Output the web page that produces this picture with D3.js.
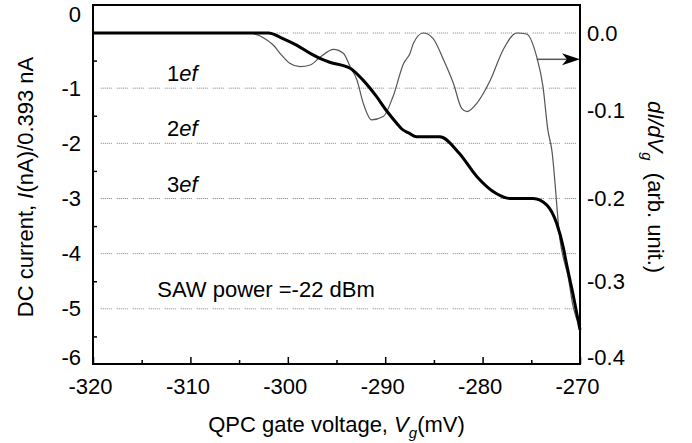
<!DOCTYPE html>
<html>
<head>
<meta charset="utf-8">
<script src="https://cdn.jsdelivr.net/npm/d3@7"></script>
<style>
  body { margin: 0; background: white; }
  text { font-family: 'Liberation Sans', Arial, sans-serif; fill: black; }
</style>
</head>
<body>
<script>
// thick curve: DC current (left axis, units of ef = 0.393 nA)
const vgCurrent = [-320, -302.0, -300.5, -299.1, -297.7, -296.7, -295.7, -293.6, -292.3, -290.9,
  -289.9, -288.8, -288.3, -287.5, -286.8, -284.4, -282.4, -280.6, -278.6, -277.2, -274.8,
  -273.4, -272.4, -271.7, -271.4, -270.7, -270];
const current = [0, 0, -0.10, -0.22, -0.37, -0.46, -0.53, -0.64, -0.85, -1.15,
  -1.40, -1.64, -1.74, -1.82, -1.88, -1.88, -2.18, -2.60, -2.91, -3.00, -3.00,
  -3.12, -3.45, -3.90, -4.17, -4.75, -5.38];

// thin curve: dI/dVg (right axis, arb. unit)
const vgDeriv = [-320, -304.2, -301.5, -300.8, -299.8, -298.75, -297.7, -296.7, -295.3, -294.3,
  -293.6, -292.9, -292.25, -291.4, -290.2, -289.2, -288.1, -287.45, -287.1, -286.1,
  -285.1, -284.0, -283.0, -282.15, -281.6, -280.6, -279.2, -277.9, -276.5, -275.5,
  -274.45, -273.8, -273.3, -272.9, -272.05, -271.2, -270.7, -270];
const deriv = [0, 0, -0.0145, -0.0245, -0.0366, -0.0407, -0.0387, -0.0294, -0.0197, -0.0245,
  -0.0407, -0.0568, -0.085, -0.105, -0.101, -0.077, -0.0366, -0.0245, -0.0124, 0,
  -0.0064, -0.0326, -0.0608, -0.091, -0.095, -0.085, -0.0568, -0.0205, 0, -0.0012,
  -0.0286, -0.0649, -0.117, -0.141, -0.250, -0.296, -0.331, -0.355];

// ticks and labels
const xMajor = [-320, -310, -300, -290, -280, -270];
const xMinor = [-315, -305, -295, -285, -275];
const leftTicks = [0, -1, -2, -3, -4, -5, -6];
const leftMinor = [-0.5, -1.5, -2.5, -3.5, -4.5, -5.5];
const rightTicks = [0, -0.1, -0.2, -0.3, -0.4];
const gridLevels = [0, -1, -2, -3, -4, -5];
const stepLevels = [-1, -2, -3];
const stepNames = ['1', '2', '3'];
const arrowAt = {from: -274.45, value: -0.0318};

const width = 692;
const height = 443;
const margin = ({top: 5, right: 112, bottom: 79, left: 93});

const x = d3.scaleLinear().domain([-320, -270]).range([margin.left, width - margin.right]);
// top edge sits a bit above zero on both axes
const yL = d3.scaleLinear().domain([-6, 0]).range([height - margin.bottom, 33]);
const yR = d3.scaleLinear().domain([-0.4, 0]).range([height - margin.bottom, 33]);

const svg = d3.select('body').append('svg')
  .attr('width', width)
  .attr('height', height);

// dotted grid
svg.append('g')
  .selectAll('line')
  .data(gridLevels)
  .join('line')
  .attr('x1', x(-319.2))
  .attr('x2', x(-270.4))
  .attr('y1', d => yL(d))
  .attr('y2', d => yL(d))
  .attr('stroke', '#808080')
  .attr('stroke-width', 1)
  .attr('stroke-dasharray', '1,1,1,1,1,1,1,1,1,1,1,5');

// X axis, ticks pointing in
const xg = svg.append('g').attr('transform', `translate(0,${height - margin.bottom})`);
xg.call(d3.axisBottom(x).tickValues(xMajor).tickSizeInner(-7).tickSizeOuter(0)
  .tickPadding(14).tickFormat(d => String(d)));
xg.append('g').call(d3.axisBottom(x).tickValues(xMinor).tickSizeInner(-4).tickSizeOuter(0).tickFormat(''));
xg.selectAll('.domain').remove();
xg.selectAll('text').attr('font-size', 22).attr('dx', -3).attr('fill', 'black');
xg.selectAll('line').attr('stroke', 'black').attr('stroke-width', 1.5);

// left axis
const lg = svg.append('g').attr('transform', `translate(${margin.left},0)`);
lg.call(d3.axisLeft(yL).tickValues(leftTicks).tickSize(0).tickPadding(12).tickFormat(d => String(d)));
lg.append('g').call(d3.axisRight(yL).tickValues(leftMinor).tickSize(4).tickFormat(''));
lg.selectAll('.domain').remove();
lg.selectAll('text').attr('font-size', 22).attr('fill', 'black')
  .attr('transform', d => d === 0 ? 'translate(0,-19)' : d === -6 ? 'translate(0,-7)' : null);
lg.selectAll('line').attr('stroke', 'black').attr('stroke-width', 1.5);

// right axis
const rg = svg.append('g').attr('transform', `translate(${width - margin.right},0)`);
rg.call(d3.axisRight(yR).tickValues(rightTicks).tickSize(0).tickPadding(7).tickFormat(d => d.toFixed(1)));
rg.selectAll('.domain').remove();
rg.selectAll('text').attr('font-size', 22).attr('fill', 'black')
  .attr('transform', d => d === -0.4 ? 'translate(0,-7)' : d === -0.1 ? 'translate(0,-5)' : null);

// frame
svg.append('rect')
  .attr('x', margin.left)
  .attr('y', margin.top)
  .attr('width', width - margin.left - margin.right)
  .attr('height', height - margin.top - margin.bottom)
  .attr('fill', 'none')
  .attr('stroke', 'black')
  .attr('stroke-width', 2);

// curves
const derivLine = d3.line()
  .x((d, i) => x(vgDeriv[i]))
  .y(d => yR(d))
  .curve(d3.curveMonotoneX);
svg.append('path')
  .attr('d', derivLine(deriv))
  .attr('fill', 'none')
  .attr('stroke', '#555')
  .attr('stroke-width', 1.2);

const currentLine = d3.line()
  .x((d, i) => x(vgCurrent[i]))
  .y(d => yL(d))
  .curve(d3.curveMonotoneX);
svg.append('path')
  .attr('d', currentLine(current))
  .attr('fill', 'none')
  .attr('stroke', 'black')
  .attr('stroke-width', 3);

// arrow to the right axis
const ay = yR(arrowAt.value);
const ax = x(-270);
svg.append('line')
  .attr('x1', x(arrowAt.from))
  .attr('x2', ax - 12)
  .attr('y1', ay)
  .attr('y2', ay)
  .attr('stroke', '#555')
  .attr('stroke-width', 1.5);
svg.append('path')
  .attr('d', `M${ax},${ay} L${ax - 18},${ay - 6} L${ax - 13},${ay} L${ax - 18},${ay + 6} Z`)
  .attr('fill', 'black');

// 1ef, 2ef, 3ef labels
const steps = svg.append('g')
  .selectAll('text')
  .data(stepLevels)
  .join('text')
  .attr('x', x(-312.4))
  .attr('y', d => yL(d) - 7)
  .attr('font-size', 22);
steps.append('tspan').text((d, i) => stepNames[i]);
steps.append('tspan').attr('font-style', 'italic').text('ef');

svg.append('text')
  .attr('x', x(-313.4))
  .attr('y', yL(-4.79))
  .attr('font-size', 22)
  .text('SAW power =-22 dBm');

// axis titles
const xt = svg.append('text')
  .attr('x', (margin.left + width - margin.right) / 2)
  .attr('y', 432)
  .attr('text-anchor', 'middle')
  .attr('font-size', 22);
xt.append('tspan').text('QPC gate voltage, ');
xt.append('tspan').attr('font-style', 'italic').text('V');
xt.append('tspan').attr('font-style', 'italic').attr('font-size', 15).attr('dy', 6).text('g');
xt.append('tspan').attr('dy', -6).text('(mV)');

const yt = svg.append('text')
  .attr('transform', 'translate(33,187) rotate(-90)')
  .attr('text-anchor', 'middle')
  .attr('font-size', 22);
yt.append('tspan').text('DC current, ');
yt.append('tspan').attr('font-style', 'italic').text('I');
yt.append('tspan').text('(nA)/0.393 nA');

const rt = svg.append('text')
  .attr('transform', 'translate(648,187) rotate(90)')
  .attr('text-anchor', 'middle')
  .attr('font-size', 22);
rt.append('tspan').attr('font-style', 'italic').text('dI/dV');
rt.append('tspan').attr('font-style', 'italic').attr('font-size', 15).attr('dy', 6).text('g');
rt.append('tspan').attr('dy', -6).text('\u00a0 (arb. unit.)');
</script>
</body>
</html>
